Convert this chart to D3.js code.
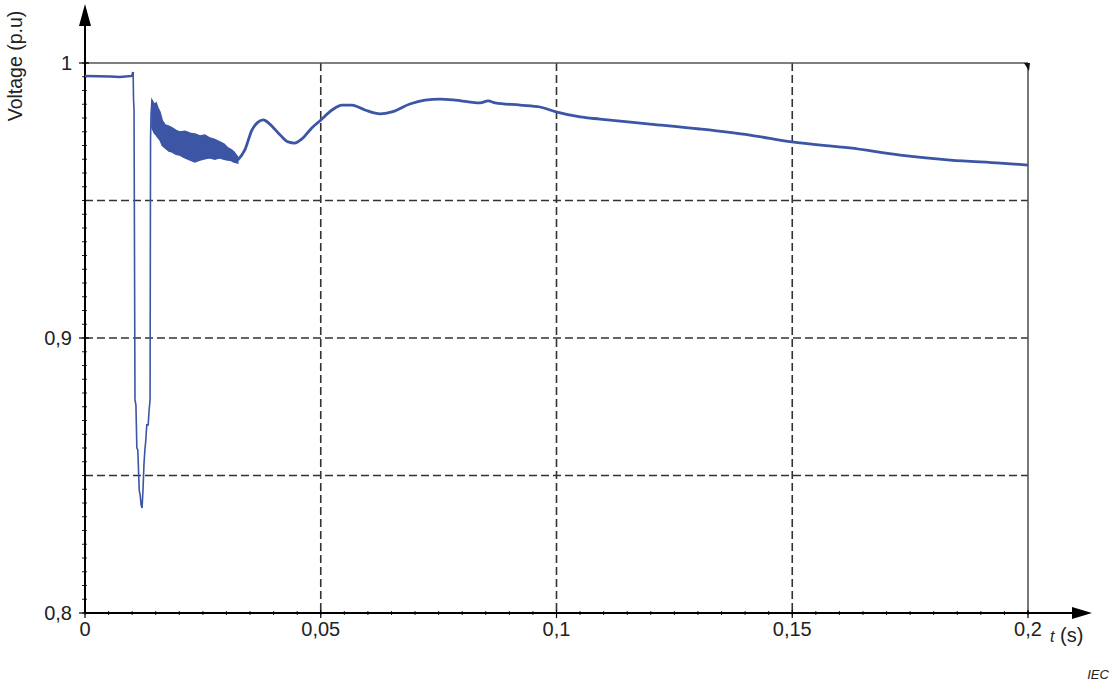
<!DOCTYPE html>
<html>
<head>
<meta charset="utf-8">
<script src="https://cdn.jsdelivr.net/npm/d3@7"></script>
<style>
  body { margin: 0; background: #fff; }
  text { font-family: "Liberation Sans", Arial, sans-serif; fill: #222; }
</style>
</head>
<body>
<svg id="plot" width="1113" height="684"></svg>
<script>
// voltage trace (t in s, v in p.u)
var preT = [0, 0.0053, 0.0074, 0.0100, 0.0102];
var preV = [0.9953, 0.9951, 0.9949, 0.9953, 0.9967];

// dip and recovery (thin part)
var dipT = [0.0102, 0.0103, 0.0104, 0.0106, 0.0108, 0.0110, 0.0112, 0.0115, 0.0117, 0.0119, 0.0121,
            0.0123, 0.0125, 0.0127, 0.0129, 0.0131, 0.0134, 0.0136, 0.0138, 0.0139, 0.0140, 0.0142];
var dipV = [0.9967, 0.9865, 0.9829, 0.8775, 0.8756, 0.8600, 0.8593, 0.8447, 0.8429, 0.8393, 0.8382,
            0.8447, 0.8538, 0.8593, 0.8629, 0.8684, 0.8684, 0.8738, 0.8775, 0.9720, 0.9811, 0.9865];

// noisy band after recovery: upper and lower envelope
var bandT  = [0.0142, 0.0147, 0.0151, 0.0155, 0.0159, 0.0164, 0.0170, 0.0178, 0.0185, 0.0193, 0.0201, 0.0212,
              0.0223, 0.0233, 0.0244, 0.0254, 0.0265, 0.0275, 0.0286, 0.0295, 0.0303, 0.0310, 0.0316, 0.0324];
var bandHi = [0.9865, 0.9850, 0.9855, 0.9835, 0.9822, 0.9790, 0.9775, 0.9770, 0.9764, 0.9755, 0.9749, 0.9752,
              0.9745, 0.9742, 0.9735, 0.9738, 0.9727, 0.9722, 0.9713, 0.9705, 0.9691, 0.9685, 0.9676, 0.9658];
var bandLo = [0.9764, 0.9745, 0.9738, 0.9728, 0.9720, 0.9700, 0.9691, 0.9680, 0.9676, 0.9668, 0.9665, 0.9655,
              0.9647, 0.9640, 0.9647, 0.9652, 0.9655, 0.9650, 0.9655, 0.9650, 0.9647, 0.9645, 0.9640, 0.9636];

// smooth oscillation and slow decay
var postT = [0.0324, 0.0339, 0.0354, 0.0367, 0.0378, 0.0392, 0.0414, 0.0431, 0.0445, 0.0460, 0.0481, 0.0498,
             0.0524, 0.0545, 0.0566, 0.0594, 0.0626, 0.0651, 0.0689, 0.0721, 0.0753, 0.0785, 0.0817, 0.0838,
             0.0855, 0.0870, 0.0923, 0.0965, 0.0999, 0.1050, 0.1092, 0.1198, 0.1304, 0.1410, 0.1499, 0.1622,
             0.1729, 0.1835, 0.1941, 0.2000];
var postV = [0.9647, 0.9684, 0.9756, 0.9785, 0.9793, 0.9778, 0.9738, 0.9713, 0.9709, 0.9724, 0.9764, 0.9789,
             0.9829, 0.9847, 0.9847, 0.9829, 0.9815, 0.9822, 0.9851, 0.9865, 0.9869, 0.9865, 0.9858, 0.9855,
             0.9862, 0.9855, 0.9847, 0.9840, 0.9822, 0.9804, 0.9796, 0.9778, 0.9760, 0.9738, 0.9713, 0.9691,
             0.9665, 0.9647, 0.9636, 0.9629];

var xTicks = [0, 0.05, 0.1, 0.15, 0.2];
var xTickLabels = ["0", "0,05", "0,1", "0,15", "0,2"];
var yTicks = [0.8, 0.9, 1];
var yTickLabels = ["0,8", "0,9", "1"];
var xGrid = [0.05, 0.1, 0.15];
var yGrid = [0.85, 0.9, 0.95];

var svg = d3.select("#plot");
var margin = {left: 85, right: 85, top: 63, bottom: 71};
var width = 1113 - margin.left - margin.right,
    height = 684 - margin.top - margin.bottom;
var g = svg.append("g").attr("transform", "translate(" + margin.left + "," + margin.top + ")");

var x = d3.scaleLinear().domain([0, 0.2]).range([0, width]);
var y = d3.scaleLinear().domain([0.8, 1]).range([height, 0]);

var lineColor = "#3c55a5";

// dashed grid
g.selectAll(".gx").data(xGrid).enter().append("line")
  .attr("x1", function(d) { return x(d); }).attr("x2", function(d) { return x(d); })
  .attr("y1", 0).attr("y2", height)
  .attr("stroke", "#333").attr("stroke-width", 1.6).attr("stroke-dasharray", "8,4");
g.selectAll(".gy").data(yGrid).enter().append("line")
  .attr("x1", 0).attr("x2", width)
  .attr("y1", function(d) { return y(d); }).attr("y2", function(d) { return y(d); })
  .attr("stroke", "#333").attr("stroke-width", 1.6).attr("stroke-dasharray", "8,4");

// frame top and right
g.append("line").attr("x1", 0).attr("x2", width).attr("y1", y(1)).attr("y2", y(1))
  .attr("stroke", "#555").attr("stroke-width", 1.6);
g.append("line").attr("x1", width).attr("x2", width).attr("y1", y(1)).attr("y2", height)
  .attr("stroke", "#555").attr("stroke-width", 1.6);
g.append("path")
  .attr("d", "M" + (width - 4) + "," + y(1) + " L" + (width + 2) + "," + y(1) + " L" + (width + 1) + "," + (y(1) + 8) + " Z")
  .attr("fill", "#111");

// minor ticks
var minorX = d3.range(0, 0.2001, 0.005);
var minorY = d3.range(0.8, 1.0001, 0.005);
g.selectAll(".mx").data(minorX).enter().append("line")
  .attr("x1", function(d) { return x(d); }).attr("x2", function(d) { return x(d); })
  .attr("y1", height - 2).attr("y2", height + 2)
  .attr("stroke", "#222").attr("stroke-width", 1);
g.selectAll(".my").data(minorY).enter().append("line")
  .attr("x1", 2).attr("x2", -3)
  .attr("y1", function(d) { return y(d); }).attr("y2", function(d) { return y(d); })
  .attr("stroke", "#222").attr("stroke-width", 1);

// axes with arrows
g.append("line").attr("x1", 0).attr("x2", 0).attr("y1", height).attr("y2", -45)
  .attr("stroke", "#000").attr("stroke-width", 2);
g.append("path").attr("d", "M0,-59 L-6,-37 L6,-37 Z").attr("fill", "#000");
g.append("line").attr("x1", 0).attr("x2", width + 50).attr("y1", height).attr("y2", height)
  .attr("stroke", "#000").attr("stroke-width", 2);
g.append("path").attr("d", "M" + (width + 64) + "," + height + " L" + (width + 44) + "," + (height - 6) +
  " L" + (width + 44) + "," + (height + 6) + " Z").attr("fill", "#000");

// major ticks and labels
g.selectAll(".ty").data(yTicks).enter().append("line")
  .attr("x1", -6).attr("x2", 4)
  .attr("y1", function(d) { return y(d); }).attr("y2", function(d) { return y(d); })
  .attr("stroke", "#000").attr("stroke-width", 1.2);
g.selectAll(".tx").data(xTicks).enter().append("line")
  .attr("x1", function(d) { return x(d); }).attr("x2", function(d) { return x(d); })
  .attr("y1", height - 3).attr("y2", height + 5)
  .attr("stroke", "#000").attr("stroke-width", 1.2);
g.selectAll(".ly").data(yTicks).enter().append("text")
  .attr("x", -13).attr("y", function(d) { return y(d) + 7; })
  .attr("text-anchor", "end").attr("font-size", 20)
  .text(function(d, i) { return yTickLabels[i]; });
g.selectAll(".lx").data(xTicks).enter().append("text")
  .attr("x", function(d) { return x(d); }).attr("y", height + 23)
  .attr("text-anchor", "middle").attr("font-size", 20)
  .text(function(d, i) { return xTickLabels[i]; });

// axis titles
svg.append("text").attr("transform", "translate(22,66) rotate(-90)")
  .attr("text-anchor", "middle").attr("font-size", 19.5).text("Voltage (p.u)");
var tl = svg.append("text").attr("x", 1050).attr("y", 642).attr("font-size", 20);
tl.append("tspan").attr("font-style", "italic").attr("font-size", 16).text("t");
tl.append("tspan").text(" (s)");
svg.append("text").attr("x", 1098).attr("y", 679).attr("text-anchor", "middle")
  .attr("font-size", 13).attr("font-style", "italic").text("IEC");

// trace
var line = d3.line().x(function(d) { return x(d[0]); }).y(function(d) { return y(d[1]); });
var area = d3.area().x(function(d) { return x(d[0]); })
  .y0(function(d) { return y(d[1]); }).y1(function(d) { return y(d[2]); });

g.append("path").datum(d3.zip(bandT, bandLo, bandHi))
  .attr("d", area).attr("fill", lineColor).attr("stroke", lineColor).attr("stroke-width", 1.5);
g.append("path").datum(d3.zip(preT, preV))
  .attr("d", line).attr("fill", "none").attr("stroke", lineColor).attr("stroke-width", 2.5);
g.append("path").datum(d3.zip(dipT, dipV))
  .attr("d", line).attr("fill", "none").attr("stroke", lineColor).attr("stroke-width", 1.6);
g.append("path").datum(d3.zip(postT, postV))
  .attr("d", line.curve(d3.curveMonotoneX)).attr("fill", "none").attr("stroke", lineColor).attr("stroke-width", 2.8);
</script>
</body>
</html>
